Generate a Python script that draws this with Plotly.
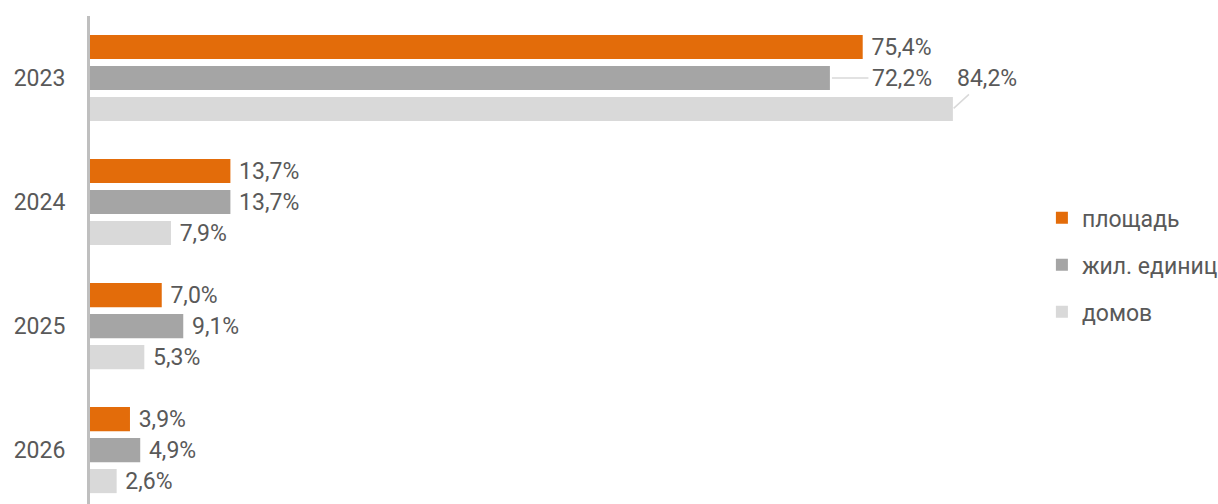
import plotly.graph_objects as go

years = ["2023", "2024", "2025", "2026"]
series_names = ["площадь", "жил. единиц", "домов"]
ploshchad = [75.4, 13.7, 7.0, 3.9]
zhil_edinic = [72.2, 13.7, 9.1, 4.9]
domov = [84.2, 7.9, 5.3, 2.6]

colors = ["#E36C0A", "#A5A5A5", "#D9D9D9"]
text_color = "#595959"
FONT = "Roboto"
FS = 23

def fmt(v):
    return f"{v:.1f}".replace(".", ",") + "%"

ypos = list(range(len(years)))
series = [ploshchad, zhil_edinic, domov]

fig = go.Figure()
for i, (name, vals) in enumerate(zip(series_names, series)):
    texts = []
    for j, v in enumerate(vals):
        # 2023 labels for 2nd/3rd series drawn as callouts
        if j == 0 and i > 0:
            texts.append("")
        else:
            texts.append("\u00a0" + fmt(v))
    fig.add_trace(go.Bar(
        name=name, y=ypos, x=vals, orientation="h",
        marker=dict(color=colors[i], line=dict(width=0)),
        text=texts, textposition="outside", cliponaxis=False,
        constraintext="none",
        textfont=dict(family=FONT, size=FS, color=text_color),
        legendgroup=name, hoverinfo="skip",
    ))

bargap = 0.25
slot = (1 - bargap) / 3

# callout labels for 2023
fig.add_annotation(x=zhil_edinic[0], y=ypos[0], xref="x", yref="y",
                   text=fmt(zhil_edinic[0]), showarrow=True, arrowhead=0,
                   arrowwidth=1.5, arrowcolor="#D9D9D9", ax=72, ay=0,
                   standoff=2, startstandoff=2,
                   font=dict(family=FONT, size=FS, color=text_color))
fig.add_annotation(x=domov[0], y=ypos[0] + slot, xref="x", yref="y",
                   text=fmt(domov[0]), showarrow=True, arrowhead=0,
                   arrowwidth=1.5, arrowcolor="#D9D9D9", ax=34, ay=-31,
                   standoff=1, startstandoff=2,
                   font=dict(family=FONT, size=FS, color=text_color))

fig.update_layout(
    width=1218, height=504,
    margin=dict(l=90, r=178, t=16, b=0, autoexpand=False),
    paper_bgcolor="white", plot_bgcolor="white",
    barmode="group", bargap=bargap, bargroupgap=0.22,
    font=dict(family=FONT, size=FS, color=text_color),
    legend=dict(x=1.002, xanchor="left", y=0.49, yanchor="middle",
                font=dict(family=FONT, size=FS, color=text_color),
                traceorder="grouped", tracegroupgap=14,
                bgcolor="rgba(0,0,0,0)"),
    showlegend=True,
)
fig.update_xaxes(range=[0, 92.7], showgrid=False, zeroline=False,
                 showticklabels=False, showline=False)
fig.update_yaxes(range=[3.435, -0.5], tickvals=ypos, ticktext=years,
                 showgrid=False, zeroline=False, showline=True,
                 linecolor="#BFBFBF", linewidth=3, ticks="",
                 ticklabelstandoff=17,
                 tickfont=dict(family=FONT, size=FS, color=text_color))

fig.write_html("out.html", config={"displayModeBar": False},
               post_script="document.body.style.margin='0';document.body.style.overflow='hidden';")
